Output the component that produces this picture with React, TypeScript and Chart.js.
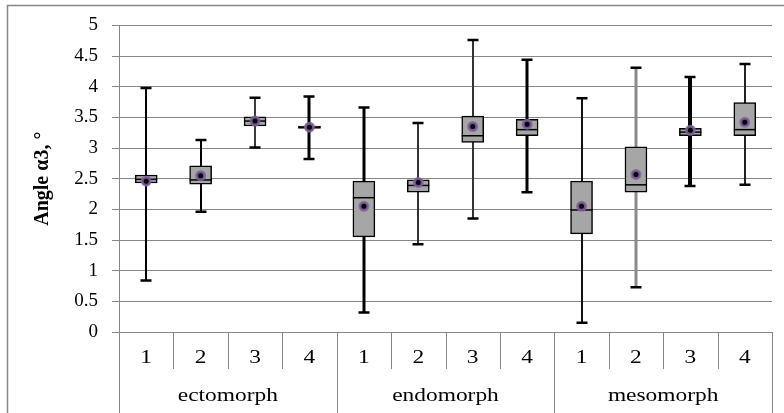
import React, { useEffect, useRef } from 'react';
import { Chart, registerables } from 'chart.js';

Chart.register(...registerables);

const categories = ['1', '2', '3', '4', '1', '2', '3', '4', '1', '2', '3', '4'];
const groups = ['ectomorph', 'endomorph', 'mesomorph'];
const minValues = [0.84, 1.96, 3.01, 2.82, 0.32, 1.43, 1.85, 2.28, 0.15, 0.73, 2.38, 2.4];
const q1Values = [2.43, 2.41, 3.36, 3.32, 1.55, 2.28, 3.09, 3.2, 1.6, 2.28, 3.2, 3.2];
const medianValues = [2.49, 2.48, 3.44, 3.34, 2.19, 2.39, 3.2, 3.3, 1.99, 2.4, 3.26, 3.3];
const q3Values = [2.56, 2.71, 3.51, 3.36, 2.46, 2.48, 3.52, 3.47, 2.46, 3.02, 3.32, 3.74];
const maxValues = [3.98, 3.13, 3.82, 3.84, 3.66, 3.41, 4.76, 4.44, 3.81, 4.31, 4.16, 4.37];
const meanValues = [2.46, 2.55, 3.44, 3.34, 2.05, 2.44, 3.35, 3.39, 2.05, 2.57, 3.29, 3.42];

const whiskerColors = ['#000', '#000', '#3a3a3a', '#000', '#000', '#333', '#333', '#000', '#111', '#8a8a8a', '#000', '#222'];
const whiskerWidths = [2, 2, 2, 3, 3, 2, 2, 3, 2, 3, 4, 2];

const GRID = '#868686';
const FONT = '"Liberation Serif", "Times New Roman", serif';
const STRETCH = 1.3;

const boxPlugin = {
  id: 'boxParts',
  beforeDraw(chart: any) {
    const { ctx, width, height } = chart;
    ctx.save();
    ctx.fillStyle = '#fff';
    ctx.fillRect(0, 0, width, height);
    ctx.strokeStyle = GRID;
    ctx.lineWidth = 1.5;
    ctx.beginPath();
    ctx.moveTo(7.5, height);
    ctx.lineTo(7.5, 5.5);
    ctx.lineTo(width, 5.5);
    ctx.stroke();
    ctx.restore();
  },
  beforeDatasetsDraw(chart: any) {
    const { ctx, scales } = chart;
    const xs = scales.x;
    const ys = scales.y;
    ctx.save();
    for (let i = 0; i < categories.length; i++) {
      const x = Math.round(xs.getPixelForValue(i));
      const yTop = ys.getPixelForValue(maxValues[i]);
      const yBot = ys.getPixelForValue(minValues[i]);
      ctx.strokeStyle = whiskerColors[i];
      ctx.lineWidth = whiskerWidths[i];
      ctx.beginPath();
      ctx.moveTo(x, yTop);
      ctx.lineTo(x, yBot);
      ctx.stroke();
      ctx.strokeStyle = '#000';
      ctx.lineWidth = 2.5;
      ctx.beginPath();
      ctx.moveTo(x - 5.5, yTop);
      ctx.lineTo(x + 5.5, yTop);
      ctx.moveTo(x - 5.5, yBot);
      ctx.lineTo(x + 5.5, yBot);
      ctx.stroke();
    }
    ctx.restore();
  },
  afterDatasetDraw(chart: any, args: any) {
    if (args.index !== 0) return;
    const { ctx, scales } = chart;
    const meta = chart.getDatasetMeta(0);
    ctx.save();
    ctx.strokeStyle = '#000';
    ctx.lineWidth = 1.5;
    for (let i = 0; i < categories.length; i++) {
      const bar = meta.data[i];
      const half = bar.width / 2;
      const y = scales.y.getPixelForValue(medianValues[i]);
      ctx.beginPath();
      ctx.moveTo(bar.x - half, y);
      ctx.lineTo(bar.x + half, y);
      ctx.stroke();
    }
    ctx.restore();
  },
  afterDraw(chart: any) {
    const { ctx, chartArea, scales, height } = chart;
    const xs = scales.x;
    const base = chartArea.bottom;
    ctx.save();
    ctx.strokeStyle = GRID;
    ctx.lineWidth = 1;
    for (let i = 0; i <= categories.length; i++) {
      const bx = Math.round(xs.getPixelForValue(i - 0.5)) + 0.5;
      const end = i % 4 === 0 ? height : base + 37;
      ctx.beginPath();
      ctx.moveTo(bx, base);
      ctx.lineTo(bx, end);
      ctx.stroke();
    }
    ctx.fillStyle = '#000';
    ctx.font = `18px ${FONT}`;
    ctx.textAlign = 'center';
    ctx.textBaseline = 'middle';
    categories.forEach((c, i) => {
      ctx.save();
      ctx.translate(xs.getPixelForValue(i), base + 26);
      ctx.scale(STRETCH, 1);
      ctx.fillText(c, 0, 0);
      ctx.restore();
    });
    groups.forEach((g, gi) => {
      ctx.save();
      ctx.translate(xs.getPixelForValue(gi * 4 + 1.5), base + 64);
      ctx.scale(STRETCH, 1);
      ctx.fillText(g, 0, 0);
      ctx.restore();
    });
    ctx.restore();
  },
};

export default function App() {
  const ref = useRef<HTMLCanvasElement | null>(null);
  useEffect(() => {
    if (!ref.current) return;
    const boxes = q1Values.map((q, i) => [q, q3Values[i]]);
    const chart = new Chart(ref.current, {
      type: 'bar',
      data: {
        labels: categories,
        datasets: [
          {
            type: 'bar',
            data: boxes as any,
            backgroundColor: '#a6a6a6',
            borderColor: '#000',
            borderWidth: 1.5,
            borderSkipped: false,
            barThickness: 22,
            grouped: false,
            order: 2,
          } as any,
          {
            type: 'line',
            data: meanValues,
            showLine: false,
            pointRadius: 4,
            pointBackgroundColor: '#000',
            pointBorderColor: 'rgba(128,100,162,0.85)',
            pointBorderWidth: 3,
            order: 1,
          } as any,
        ],
      },
      options: {
        responsive: false,
        animation: false,
        layout: { padding: { top: 24, right: 12, left: 0, bottom: 73 } },
        plugins: { legend: { display: false }, tooltip: { enabled: false } },
        scales: {
          x: {
            type: 'category',
            offset: true,
            grid: { display: false },
            border: { display: false },
            ticks: { display: false },
          },
          y: {
            min: 0,
            max: 5,
            ticks: {
              stepSize: 0.5,
              color: '#000',
              font: { family: FONT, size: 19 },
              padding: 14,
              callback: (v: any) => String(Number(v)),
            },
            grid: { color: GRID, lineWidth: 1, tickLength: 7 },
            border: { color: GRID, width: 1 },
            title: {
              display: true,
              text: 'Angle α3, °',
              color: '#000',
              font: { family: FONT, size: 20, weight: 'bold' },
              padding: { top: 31, bottom: 0 },
            },
            afterFit(scale: any) {
              scale.width = 119;
            },
          },
        },
      } as any,
      plugins: [boxPlugin],
    });
    return () => chart.destroy();
  }, []);
  return (
    <div style={{ position: 'fixed', left: 0, top: 0, width: 784, height: 413 }}>
      <canvas ref={ref} width={784} height={413} />
    </div>
  );
}
